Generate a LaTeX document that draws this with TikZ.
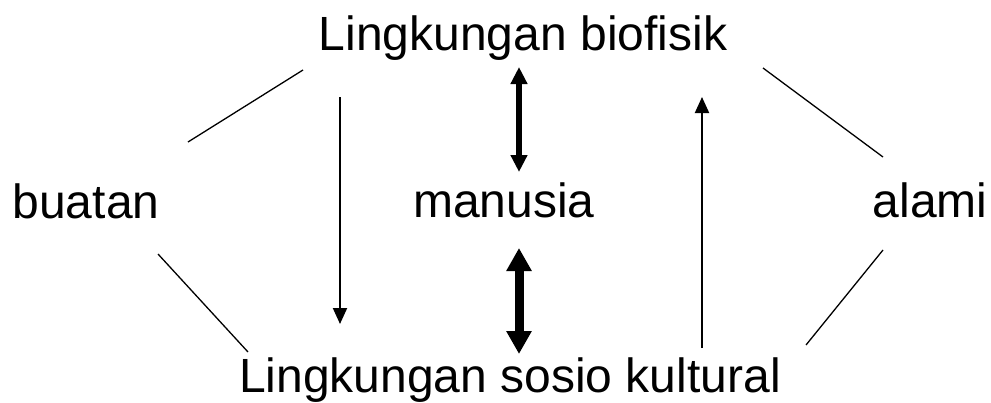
\documentclass[tikz,border=0pt]{standalone}
\usepackage{fontspec}
\setmainfont{Liberation Sans}
\usetikzlibrary{arrows.meta}
\begin{document}
\begin{tikzpicture}[x=1pt,y=-1pt,
  lbl/.style={inner sep=0pt, font=\fontsize{48}{52}\selectfont},
  thin link/.style={line width=1.3pt},
  one way/.style={line width=2pt, -{Triangle[width=14pt,length=16pt]}},
  both ways/.style={line width=5.5pt, {Triangle[width=16pt,length=17pt]}-{Triangle[width=16pt,length=17pt]}},
  both ways bold/.style={line width=9pt, {Triangle[width=24pt,length=23pt]}-{Triangle[width=24pt,length=23pt]}}]
  \useasboundingbox (0,0) rectangle (991,402);

  % labels
  \node[lbl, anchor=base] (bio) at (523,50) {Lingkungan biofisik};
  \node[lbl, anchor=base] (buatan) at (86,218) {buatan};
  \node[lbl, anchor=base] (manusia) at (504,217) {manusia};
  \node[lbl, anchor=base] (alami) at (930,217) {alami};
  \node[lbl, anchor=base] (sosio) at (510,392) {Lingkungan sosio kultural};

  % connector end points
  \coordinate (bl1) at (303,70);  \coordinate (bl2) at (188,142);
  \coordinate (bl3) at (158,254); \coordinate (bl4) at (248,352);
  \coordinate (br1) at (763,68);  \coordinate (br2) at (883,157);
  \coordinate (br3) at (883,250); \coordinate (br4) at (806,345);
  \coordinate (dn1) at (340,97);  \coordinate (dn2) at (340,324);
  \coordinate (up1) at (702,348); \coordinate (up2) at (702,97);
  \coordinate (ma1) at (519,67);  \coordinate (ma2) at (519,172);
  \coordinate (mb1) at (519,248); \coordinate (mb2) at (519,354);

  % side links
  \draw[thin link] (bl1) -- (bl2);
  \draw[thin link] (bl3) -- (bl4);
  \draw[thin link] (br1) -- (br2);
  \draw[thin link] (br3) -- (br4);

  % arrows
  \draw[one way] (dn1) -- (dn2);
  \draw[one way] (up1) -- (up2);
  \draw[both ways] (ma1) -- (ma2);
  \draw[both ways bold] (mb1) -- (mb2);
\end{tikzpicture}
\end{document}
